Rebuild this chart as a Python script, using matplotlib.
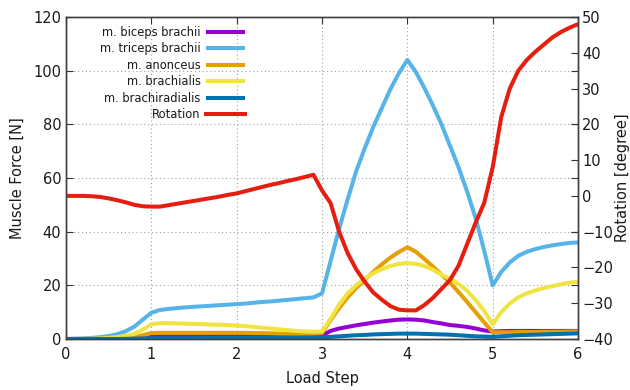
import numpy as np
import matplotlib
matplotlib.use("Agg")
import matplotlib.pyplot as plt

plt.rcParams['font.family'] = ['DejaVu Sans']

load_step = [round(0.1 * i, 1) for i in range(61)]

biceps = [0, 0, 0, 0, 0, 0, 0.05, 0.1, 0.3, 0.7, 1.0, 1.0, 1.0, 1.0, 1.0, 1.0, 1.0, 1.0, 1.0, 1.0,
          1.0, 1.0, 1.0, 1.0, 1.0, 1.0, 1.0, 1.0, 1.1, 1.2, 1.3, 3.0, 3.9, 4.5, 5.1, 5.6, 6.1, 6.5, 6.9, 7.2,
          7.3, 7.2, 6.9, 6.3, 5.8, 5.2, 4.9, 4.5, 3.9, 3.2, 2.8, 2.9, 3.0, 3.0, 3.0, 3.0, 3.0, 3.0, 3.0, 3.0, 3.0]

triceps = [0, 0.1, 0.2, 0.4, 0.7, 1.1, 1.8, 2.9, 4.6, 7.2, 9.8, 10.8, 11.2, 11.5, 11.8, 12.0, 12.2, 12.4, 12.6, 12.8,
           13.0, 13.2, 13.5, 13.8, 14.0, 14.3, 14.6, 14.9, 15.2, 15.5, 17.0, 29.0, 41.0, 52.0, 62.5, 71.0, 79.0, 86.0, 93.0, 99.0,
           104.0, 99.5, 93.5, 87.0, 80.0, 72.0, 64.0, 55.0, 45.0, 33.0, 20.0, 25.0, 28.5, 31.0, 32.5, 33.5, 34.3, 34.9, 35.4, 35.8, 36.0]

anconeus = [0, 0, 0, 0, 0, 0, 0.05, 0.2, 0.6, 1.4, 2.2, 2.3, 2.3, 2.3, 2.3, 2.3, 2.3, 2.3, 2.3, 2.3,
            2.3, 2.3, 2.2, 2.2, 2.1, 2.0, 1.9, 1.8, 1.8, 1.9, 2.2, 7.0, 11.5, 15.5, 19.0, 22.0, 25.0, 27.8, 30.3, 32.4,
            34.2, 32.5, 29.8, 27.0, 24.0, 21.0, 17.5, 13.8, 10.0, 6.2, 2.5, 2.5, 2.5, 2.6, 2.6, 2.6, 2.7, 2.7, 2.7, 2.8, 2.8]

brachialis = [0, 0, 0.05, 0.1, 0.2, 0.4, 0.7, 1.2, 1.9, 3.5, 5.5, 5.9, 5.9, 5.8, 5.7, 5.6, 5.5, 5.4, 5.3, 5.2,
              5.0, 4.8, 4.5, 4.2, 3.9, 3.6, 3.3, 3.0, 2.8, 2.7, 2.8, 7.5, 12.8, 17.0, 20.0, 22.5, 24.5, 26.0, 27.2, 28.0,
              28.3, 28.0, 27.2, 25.8, 24.0, 22.5, 20.5, 18.0, 14.5, 10.5, 5.5, 10.0, 13.2, 15.5, 17.0, 18.1, 19.0, 19.7, 20.4, 21.0, 21.4]

brachiradialis = [0, 0, 0, 0, 0, 0, 0, 0.05, 0.1, 0.2, 0.3, 0.3, 0.3, 0.3, 0.3, 0.3, 0.35, 0.35, 0.4, 0.4,
                  0.4, 0.45, 0.45, 0.5, 0.5, 0.5, 0.55, 0.55, 0.6, 0.6, 0.6, 0.8, 1.0, 1.2, 1.4, 1.5, 1.7, 1.8, 1.9, 2.0,
                  2.0, 2.0, 1.9, 1.8, 1.7, 1.6, 1.4, 1.2, 1.0, 0.9, 0.8, 1.0, 1.2, 1.4, 1.5, 1.6, 1.7, 1.8, 1.9, 2.0, 2.1]

rotation = [0, 0, 0, -0.1, -0.3, -0.7, -1.2, -1.8, -2.5, -2.9, -3.0, -3.0, -2.6, -2.2, -1.8, -1.4, -1.0, -0.6, -0.2, 0.3,
            0.7, 1.3, 1.9, 2.5, 3.1, 3.6, 4.2, 4.7, 5.3, 5.9, 1.5, -2.0, -10.0, -16.0, -20.5, -24.0, -27.0, -29.0, -30.8, -31.8,
            -32.0, -32.0, -30.5, -28.5, -26.0, -23.5, -19.5, -13.5, -7.5, -2.0, 8.0, 22.0, 30.0, 35.0, 38.0, 40.3, 42.3, 44.3, 45.8, 47.0, 48.0]

force_series = [
    ("m. biceps brachii", biceps, "#9400d3"),
    ("m. triceps brachii", triceps, "#56b4e9"),
    ("m. anonceus", anconeus, "#e69f00"),
    ("m. brachialis", brachialis, "#f0e442"),
    ("m. brachiradialis", brachiradialis, "#0072b2"),
]

x_ticks = [0, 1, 2, 3, 4, 5, 6]
y_ticks = [0, 20, 40, 60, 80, 100, 120]
y2_ticks = [-40, -30, -20, -10, 0, 10, 20, 30, 40, 50]

fig = plt.figure(figsize=(6.3, 3.9), dpi=100)
ax = fig.add_axes([0.1048, 0.1308, 0.8127, 0.8256])
ax2 = ax.twinx()

lw = 2.9
handles = []
for label, values, color in force_series:
    h, = ax.plot(load_step, values, color=color, lw=lw, label=label, solid_capstyle='butt')
    handles.append(h)
hr, = ax2.plot(load_step, rotation, color="#e51e10", lw=lw, label="Rotation")
handles.append(hr)

ax.set_xlim(0, 6)
ax.set_ylim(0, 120)
ax2.set_ylim(-40, 50)
ax.set_xticks(x_ticks)
ax.set_yticks(y_ticks)
ax2.set_yticks(y2_ticks)

ax.grid(True, color="#a0a0a0", linestyle=(0, (1, 2.5)), linewidth=0.8)
ax.set_axisbelow(True)

ax.tick_params(axis='both', direction='in', length=5, width=0.8, labelsize=10.5,
               top=True, right=True, colors='#333333', labelcolor='#1a1a1a')
ax.tick_params(axis='x', pad=6)
ax2.tick_params(axis='y', direction='in', length=5, width=0.8, labelsize=10.5,
                colors='#333333', labelcolor='#1a1a1a', pad=3)
for a in (ax, ax2):
    for s in a.spines.values():
        s.set_color('#404040')
        s.set_linewidth(1.0)

ax.set_xlabel("Load Step", fontsize=10.5, color='#1a1a1a', labelpad=6)
ax.set_ylabel("Muscle Force [N]", fontsize=10.5, color='#1a1a1a', labelpad=6)
ax2.set_ylabel("Rotation [degree]", fontsize=10.5, color='#1a1a1a', labelpad=1)

leg = ax.legend(handles=handles, loc='upper right',
                bbox_to_anchor=((245 - 66) / 512, (339 - 26) / 322),
                frameon=False, fontsize=8.3, markerfirst=False, handlelength=3.4,
                handletextpad=0.45, labelspacing=0.3, borderaxespad=0.0, borderpad=0.0)
for t in leg.get_texts():
    t.set_ha('right')
    t.set_color('#1a1a1a')
leg.set_zorder(5)

fig.savefig("out.png", dpi=100)
